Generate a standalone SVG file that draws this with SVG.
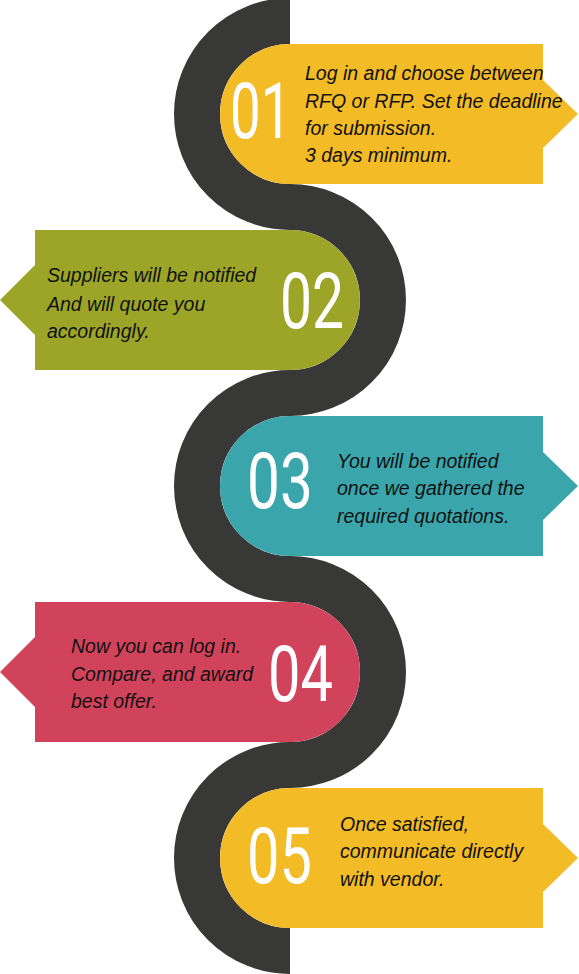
<svg xmlns="http://www.w3.org/2000/svg" width="579" height="974" viewBox="0 0 579 974">
<style>
.num{font-family:Roboto,"DejaVu Sans",sans-serif;font-weight:400;font-size:77px;fill:#ffffff}
.txt{font-family:"Liberation Sans",Arial,sans-serif;font-style:italic;font-size:19.5px;fill:#111111}
.road{fill:none;stroke:#383836;stroke-width:46}
</style>
<rect width="579" height="974" fill="#ffffff"/>
<g id="connectors">
<path class="road" d="M290,21 A93,93 0 0 0 290,207 A93,93 0 0 1 290,393 A93,93 0 0 0 290,579 A93,93 0 0 1 290,765 A93,93 0 0 0 290,951"/>
</g>
<g id="step01">
<path fill="#F3BB26" d="M290,44 H543 V80 L578,114 L543,148 V184 H290 A70,70 0 0 1 290,44 Z"/>
<text class="num" transform="translate(230,138) scale(0.71,1)">01</text>
<text class="txt" x="305" y="80">Log in and choose between</text>
<text class="txt" x="305" y="107.5">RFQ or RFP. Set the deadline</text>
<text class="txt" x="305" y="135">for submission.</text>
<text class="txt" x="305" y="162">3 days minimum.</text>
</g>
<g id="step02">
<path fill="#9CA527" d="M35,230 H290 A70,70 0 0 1 290,370 H35 V335 L0,300 L35,265 Z"/>
<text class="num" transform="translate(280,328) scale(0.74,1)">02</text>
<text class="txt" x="47" y="282">Suppliers will be notified</text>
<text class="txt" x="47" y="310.5">And will quote you</text>
<text class="txt" x="47" y="338">accordingly.</text>
</g>
<g id="step03">
<path fill="#3AA6AC" d="M290,416 H543 V452 L578,486 L543,520 V556 H290 A70,70 0 0 1 290,416 Z"/>
<text class="num" transform="translate(247,508) scale(0.76,1)">03</text>
<text class="txt" x="337" y="468">You will be notified</text>
<text class="txt" x="337" y="495">once we gathered the</text>
<text class="txt" x="337" y="522.5">required quotations.</text>
</g>
<g id="step04">
<path fill="#D1435B" d="M35,602 H290 A70,70 0 0 1 290,742 H35 V707 L0,672 L35,637 Z"/>
<text class="num" transform="translate(268,701) scale(0.75,1)">04</text>
<text class="txt" x="71" y="653">Now you can log in.</text>
<text class="txt" x="71" y="681">Compare, and award</text>
<text class="txt" x="71" y="708">best offer.</text>
</g>
<g id="step05">
<path fill="#F3BB26" d="M290,788 H543 V824 L578,858 L543,892 V928 H290 A70,70 0 0 1 290,788 Z"/>
<text class="num" transform="translate(247,883) scale(0.75,1)">05</text>
<text class="txt" x="340" y="831">Once satisfied,</text>
<text class="txt" x="340" y="858">communicate directly</text>
<text class="txt" x="340" y="886">with vendor.</text>
</g>
</svg>
